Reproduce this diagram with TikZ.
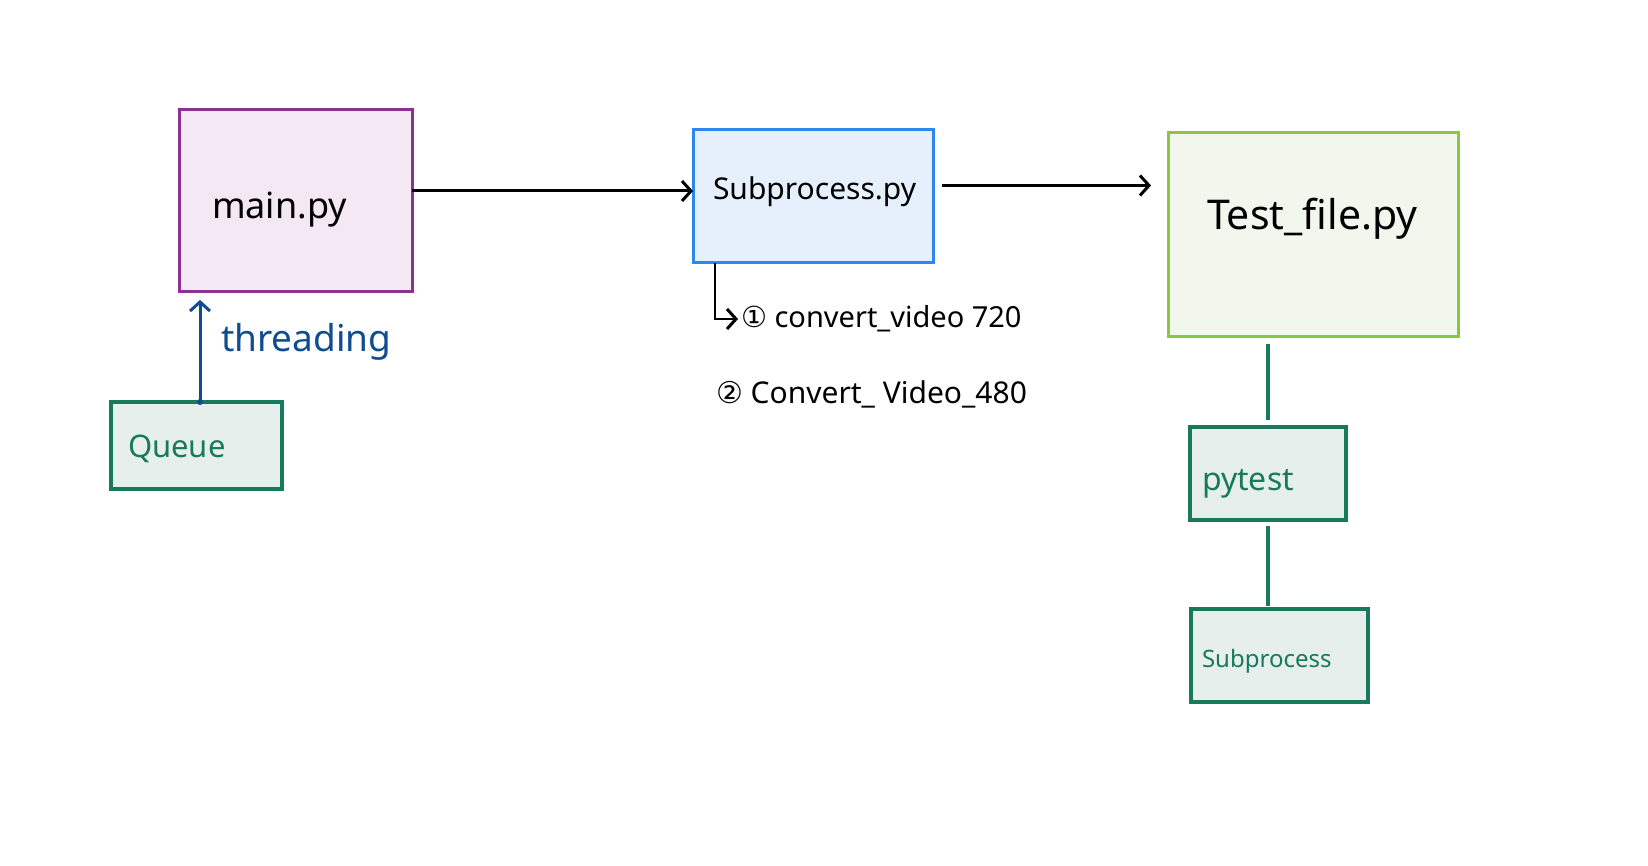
\documentclass[tikz,border=0pt]{standalone}
\usepackage{fontspec}
\setmainfont{Noto Sans}
\newfontfamily\symfont{DejaVu Sans}
\usetikzlibrary{arrows.meta}
\definecolor{mainborder}{HTML}{8E3291}
\definecolor{mainfill}{HTML}{F3E8F3}
\definecolor{subborder}{HTML}{2E86F0}
\definecolor{subfill}{HTML}{E5F0FC}
\definecolor{testborder}{HTML}{8CC540}
\definecolor{testfill}{HTML}{F1F7EC}
\definecolor{grn}{HTML}{167A5B}
\definecolor{grnfill}{HTML}{E6EFEC}
\definecolor{thblue}{HTML}{0F4C91}
\tikzset{
  box/.style={draw, rectangle, line width=3pt, inner sep=0pt, outer sep=0pt},
  gbox/.style={box, draw=grn, fill=grnfill, line width=3.5pt},
  lbl/.style={anchor=west, inner sep=0pt, outer sep=0pt},
  conn/.style={line width=3pt, -{Straight Barb[length=9pt,width=20pt,line width=3pt]}},
  gline/.style={draw=grn, line width=3.5pt},
}
\newcommand{\fs}[1]{\fontsize{#1}{#1}\selectfont}
\begin{document}
\begin{tikzpicture}[x=1pt,y=-1pt]
\useasboundingbox[fill=white] (0,0) rectangle (1648,866);
% boxes
\node[box, draw=mainborder, fill=mainfill, minimum width=233, minimum height=182] (main) at (295.5,201) {};
\node[box, draw=subborder, fill=subfill, minimum width=240, minimum height=133] (sub) at (813,196.5) {};
\node[box, draw=testborder, fill=testfill, minimum width=290, minimum height=204] (test) at (1313,235) {};
\node[gbox, minimum width=171, minimum height=87] (queue) at (196.5,445.5) {};
\node[gbox, minimum width=156, minimum height=93] (pytest) at (1268,473.5) {};
\node[gbox, minimum width=177, minimum height=93] (subp) at (1279.5,655.5) {};
% texts
\node[lbl] (tmain) at (212,210) {\fs{36}main.py};
\node[lbl] (tsub) at (713,192) {\fs{30}Subprocess.py};
\node[lbl] (ttest) at (1207,219) {\fs{41}Test\_file.py};
\node[lbl, text=thblue] (tthr) at (221,342) {\fs{37}threading};
\node[lbl, text=grn] (tqueue) at (128,449) {\fs{31}Queue};
\node[lbl, text=grn] (tpytest) at (1202,484) {\fs{32}pytest};
\node[lbl, text=grn] (tsubp) at (1202,661) {\fs{24}Subprocess};
\node[lbl] (l1) at (741,319) {\fs{29}{\symfont ①} convert\_video 720};
\node[lbl] (l2) at (716,394) {\fs{30}{\symfont ②} Convert\_ Video\_480};
% connectors
\draw[conn] ([yshift=10pt]main.east) -- ([yshift=10pt]main.east -| sub.west);
\draw[conn] ([xshift=9pt,yshift=11pt]sub.east) -- ([xshift=-17pt,yshift=11pt]sub.east -| test.west);
\draw[conn, line width=2.5pt] ([xshift=22pt]sub.south west) |- ([xshift=-3pt]l1.west);
\draw[conn, draw=thblue, line width=3pt] ([xshift=3.5pt]queue.north) -- ([xshift=3.5pt,yshift=-8pt]queue.north |- main.south);
\fill[thblue] ([xshift=3.5pt]queue.north) circle (3pt);
\draw[gline] ([yshift=-7pt]pytest.north |- test.south) -- ([yshift=7pt]pytest.north);
\draw[gline] ([yshift=-6pt]pytest.south) -- ([yshift=3pt]pytest.south |- subp.north);
\end{tikzpicture}
\end{document}
